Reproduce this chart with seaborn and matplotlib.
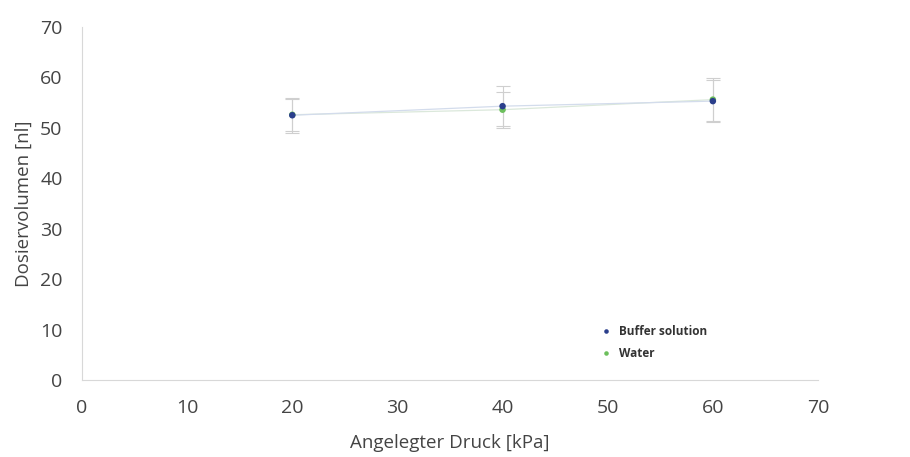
import matplotlib
matplotlib.use("Agg")
import matplotlib.pyplot as plt
import seaborn as sns
import pandas as pd

pressure = [20, 40, 60]
buffer_vol = [52.5, 54.3, 55.3]
buffer_err = [3.5, 4.0, 4.2]
water_vol = [52.6, 53.6, 55.6]
water_err = [3.2, 3.6, 4.3]

x_ticks = [0, 10, 20, 30, 40, 50, 60, 70]
y_ticks = [0, 10, 20, 30, 40, 50, 60, 70]

sns.set_style("white")
plt.rcParams['font.family'] = ['Open Sans', 'DejaVu Sans']

df = pd.DataFrame({
    "Druck": pressure * 2,
    "Volumen": water_vol + buffer_vol,
    "Serie": ["Water"] * 3 + ["Buffer solution"] * 3,
})

fig = plt.figure(figsize=(9.1, 4.57), dpi=100)
ax = fig.add_axes([82 / 910, 1 - 380 / 457, (818 - 82) / 910, (380 - 27) / 457])

colors = {"Buffer solution": "#2b3f8c", "Water": "#6cbf5c"}
line_colors = {"Buffer solution": "#d3dcec", "Water": "#dbe8db"}

for name, vals, errs in [("Water", water_vol, water_err), ("Buffer solution", buffer_vol, buffer_err)]:
    ax.errorbar(pressure, vals, yerr=errs, fmt="none", ecolor="#cfcfcf",
                elinewidth=0.8, capsize=5, capthick=0.8, zorder=2)
    ax.plot(pressure, vals, color=line_colors[name], lw=0.9, zorder=1)

sns.scatterplot(data=df, x="Druck", y="Volumen", hue="Serie", palette=colors,
                hue_order=["Buffer solution", "Water"],
                s=22, edgecolor="none", ax=ax, zorder=3)

ax.set_xlim(0, 70)
ax.set_ylim(0, 70)
ax.set_xticks(x_ticks)
ax.set_yticks(y_ticks)
ax.tick_params(axis="both", labelsize=14, colors="#c8c8c8", labelcolor="#444444",
               length=10, width=0.8, direction="out", pad=4)
for s in ["top", "right"]:
    ax.spines[s].set_visible(False)
for s in ["left", "bottom"]:
    ax.spines[s].set_color("#d8d8d8")
    ax.spines[s].set_linewidth(0.8)

ax.set_xlabel("Angelegter Druck [kPa]", fontsize=13.5, color="#444444", labelpad=12)
ax.set_ylabel("Dosiervolumen [nl]", fontsize=13.5, color="#444444", labelpad=5)

leg = ax.legend(loc="upper left", bbox_to_anchor=(0.69, 0.17), frameon=False,
                fontsize=8.5, handletextpad=0.1, markerscale=0.7, labelspacing=0.8,
                borderaxespad=0)
for t in leg.get_texts():
    t.set_color("#333333")
    t.set_fontweight("bold")

fig.savefig("out.png", dpi=100, facecolor="white")
